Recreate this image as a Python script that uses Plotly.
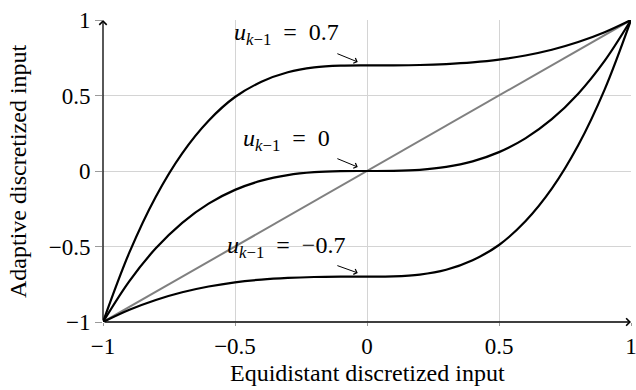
import plotly.graph_objects as go

x_vals = [-1.0, -0.9, -0.8, -0.7, -0.6, -0.5, -0.4, -0.3, -0.2, -0.1, 0.0,
          0.1, 0.2, 0.3, 0.4, 0.5, 0.6, 0.7, 0.8, 0.9, 1.0]
y_pos07 = [-1.0, -0.539, -0.170, 0.117, 0.333, 0.49, 0.591, 0.654, 0.686, 0.698, 0.70,
           0.700, 0.702, 0.708, 0.719, 0.737, 0.765, 0.803, 0.854, 0.919, 1.0]
y_zero = [-1.0, -0.729, -0.512, -0.343, -0.216, -0.125, -0.064, -0.027, -0.008, -0.001, 0.0,
          0.001, 0.008, 0.027, 0.064, 0.125, 0.216, 0.343, 0.512, 0.729, 1.0]
y_neg07 = [-1.0, -0.919, -0.854, -0.803, -0.765, -0.737, -0.719, -0.708, -0.702, -0.700, -0.70,
           -0.698, -0.686, -0.654, -0.591, -0.49, -0.333, -0.117, 0.170, 0.539, 1.0]
diag_x = [-1.0, 1.0]
diag_y = [-1.0, 1.0]

tick_vals = [-1, -0.5, 0, 0.5, 1]
tick_text = ["\u22121", "\u22120.5", "0", "0.5", "1"]

labels = ["0.7", "0", "\u22120.7"]
label_pos = [(-0.305, 0.91), (-0.305, 0.205), (-0.305, -0.505)]
arrow_tail = [(-0.118, 0.781), (-0.118, 0.086), (-0.118, -0.623)]
arrow_head = [(-0.035, 0.722), (-0.035, 0.026), (-0.035, -0.675)]

FONT = "Liberation Serif, Times New Roman, serif"

fig = go.Figure()
fig.add_trace(go.Scatter(x=diag_x, y=diag_y, mode="lines",
                         line=dict(color="#808080", width=2), showlegend=False))
for ys in (y_pos07, y_zero, y_neg07):
    fig.add_trace(go.Scatter(x=x_vals, y=ys, mode="lines",
                             line=dict(color="black", width=2.2, shape="spline", smoothing=1.0),
                             showlegend=False))

ann = []
for lab, (lx, ly) in zip(labels, label_pos):
    ann.append(dict(x=lx, y=ly, xref="x", yref="y", showarrow=False,
                    xanchor="center", yanchor="middle",
                    text="<i>u</i><sub><i>k</i>\u22121</sub>\u2002=\u2002" + lab,
                    font=dict(family=FONT, size=24, color="black")))
for (tx, ty), (hx, hy) in zip(arrow_tail, arrow_head):
    ann.append(dict(x=hx, y=hy, ax=tx, ay=ty, xref="x", yref="y", axref="x", ayref="y",
                    text="", showarrow=True, arrowhead=4, arrowsize=1.1, arrowwidth=1,
                    arrowcolor="black", standoff=0, startstandoff=0))
# axis arrows
ann.append(dict(x=1.0, y=-1.0, ax=-1.0, ay=-1.0, xref="x", yref="y", axref="x", ayref="y",
                text="", showarrow=True, arrowhead=4, arrowsize=1.1, arrowwidth=1.3,
                arrowcolor="black", standoff=0, startstandoff=0))
ann.append(dict(x=-1.0, y=1.0, ax=-1.0, ay=-1.0, xref="x", yref="y", axref="x", ayref="y",
                text="", showarrow=True, arrowhead=4, arrowsize=1.1, arrowwidth=1.3,
                arrowcolor="black", standoff=0, startstandoff=0))
ann.append(dict(x=0.5, y=-0.168, xref="paper", yref="paper", showarrow=False,
                xanchor="center", yanchor="middle",
                text="Equidistant discretized input",
                font=dict(family=FONT, size=24, color="black")))
ann.append(dict(x=-0.161, y=0.5, xref="paper", yref="paper", showarrow=False, textangle=-90,
                xanchor="center", yanchor="middle",
                text="Adaptive discretized input",
                font=dict(family=FONT, size=24, color="black")))

axis_common = dict(range=[-1, 1], tickvals=tick_vals, ticktext=tick_text,
                   showgrid=True, gridcolor="#d4d4d4", gridwidth=1, zeroline=False,
                   showline=False, ticks="outside", tickcolor="#9a9a9a",
                   ticklabeloverflow="allow", automargin=False,
                   tickfont=dict(family=FONT, size=23, color="black"))

fig.update_layout(
    width=636, height=390,
    margin=dict(l=103, r=5, t=20, b=68, autoexpand=False),
    paper_bgcolor="white", plot_bgcolor="white",
    font=dict(family=FONT),
    xaxis=dict(axis_common, ticklen=3),
    yaxis=dict(axis_common, ticklen=7),
    annotations=ann,
)
fig.write_html("out.html")
